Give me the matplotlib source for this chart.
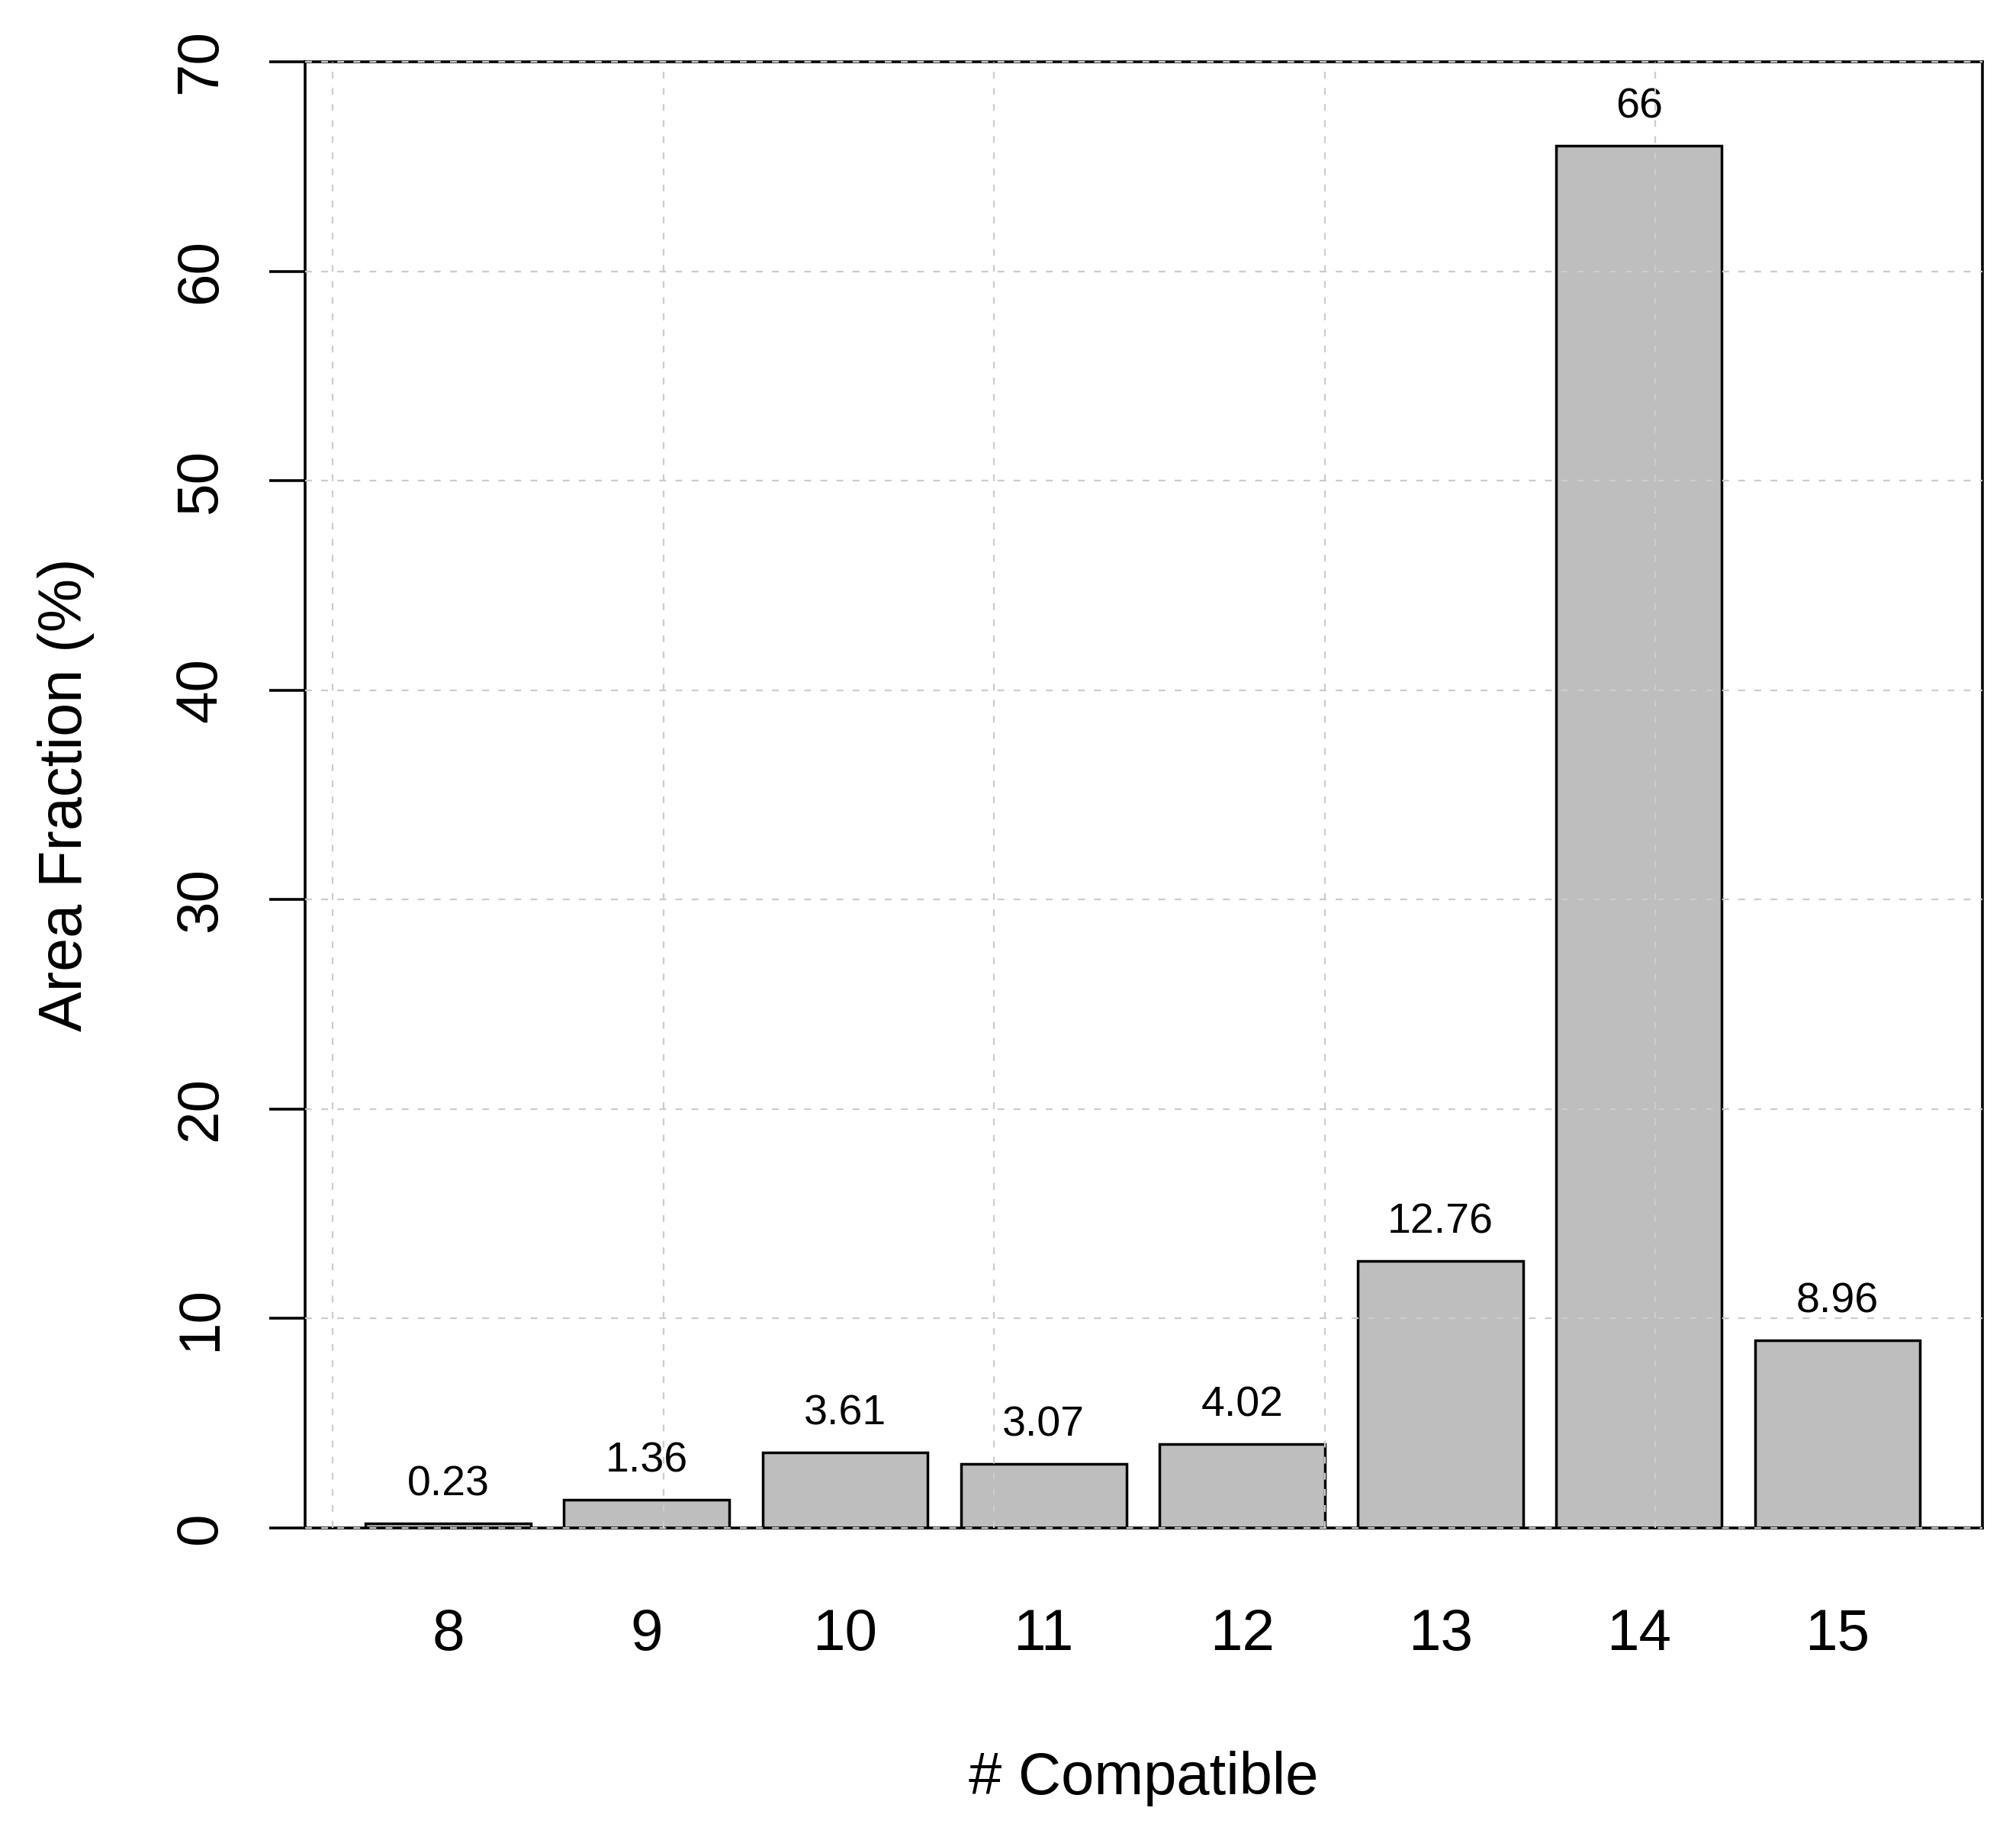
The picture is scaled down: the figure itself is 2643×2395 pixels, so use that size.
import matplotlib.pyplot as plt
import numpy as np

categories = ["8", "9", "10", "11", "12", "13", "14", "15"]
area_fraction = [0.23, 1.36, 3.61, 3.07, 4.02, 12.76, 66, 8.96]
y_ticks = [0, 10, 20, 30, 40, 50, 60, 70]
grid_x = [0, 2, 4, 6, 8]

plt.rcParams['font.family'] = ['Liberation Sans', 'DejaVu Sans']

fig = plt.figure(figsize=(26.43, 23.95), dpi=100)
ax = fig.add_axes([0.1513, 0.1637, 0.8321, 0.8025])

# barplot layout like R: width 1, space 0.2
x = 0.7 + 1.2 * np.arange(len(categories))
ax.bar(x, area_fraction, width=1.0, color='#BEBEBE', edgecolor='black',
       linewidth=2.5, zorder=2)

for xi, v in zip(x, area_fraction):
    ax.annotate(f"{v:g}", (xi, v), xytext=(0, 36), textcoords='offset points',
                ha='center', va='center', fontsize=40)

ax.set_xlim(-0.166, 9.977)
ax.set_ylim(0, 70)

grid_style = dict(color='#CCCCCC', linewidth=1.6, dashes=(4, 5.5), zorder=3, clip_on=False)
for gy in y_ticks:
    ax.axhline(gy, **grid_style)
for gx in grid_x:
    ax.axvline(gx, **grid_style)

for s in ax.spines.values():
    s.set_linewidth(2.6)
    s.set_color('black')

ax.set_yticks(y_ticks)
ax.set_yticklabels([str(t) for t in y_ticks], rotation=90, va='center', ha='center')
ax.tick_params(axis='y', length=34, width=2.6, pad=64, labelsize=55)

ax.set_xticks(x)
ax.set_xticklabels(categories, va='center')
ax.tick_params(axis='x', length=0, pad=101, labelsize=55)

ax.set_xlabel("# Compatible", fontsize=56, va='center')
ax.xaxis.set_label_coords(0.5, -0.1707)
ax.set_ylabel("Area Fraction (%)", fontsize=57, va='center', ha='center')
ax.yaxis.set_label_coords(-0.1425, 0.5)

fig.savefig('out.png', dpi=100)
